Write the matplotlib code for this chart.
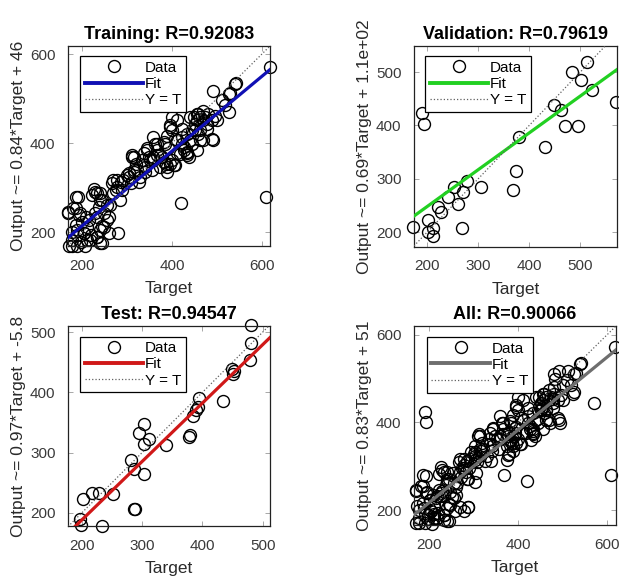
import numpy as np
import matplotlib
matplotlib.use('Agg')
import matplotlib.pyplot as plt
from matplotlib.lines import Line2D

plt.rcParams['font.family'] = ['Liberation Sans', 'DejaVu Sans']

# Target / output pairs
train_points = [
    (617, 572), (609, 280), (420, 266), (492, 406), (492, 518), (540, 533), (542, 535),
    (530, 512), (526, 470), (518, 485), (500, 451), (481, 466), (279, 198), (244, 175),
    (170, 244), (192, 278), (181, 254), (178, 170),
    (186, 280), (170, 246), (186, 254), (227, 298), (223, 283), (234, 287), (241, 272),
    (256, 261), (267, 310), (275, 295), (286, 313), (290, 295), (304, 324), (308, 310),
    (316, 335), (319, 354), (312, 373), (334, 362), (341, 347), (349, 369), (367, 373),
    (378, 369), (386, 354), (245, 213), (260, 235), (230, 243), (216, 228), (201, 224),
    (186, 216), (178, 201), (190, 194), (204, 198), (219, 194), (234, 190), (178, 183),
    (197, 179), (212, 183), (241, 175), (171, 170), (190, 170), (208, 235), (193, 239),
    (315, 369), (363, 399), (367, 384), (359, 414), (400, 429), (407, 410), (396, 354),
    (407, 350), (382, 358), (352, 362), (337, 350), (322, 339), (300, 328), (292, 317),
    (278, 302), (270, 317), (433, 421), (444, 399), (452, 429), (459, 466), (456, 451),
    (474, 458), (463, 406), (411, 451), (396, 440), (422, 399), (426, 384), (433, 373),
    (456, 384), (385, 399), (389, 417),
    (526, 511), (511, 496), (496, 462), (489, 451), (478, 432), (489, 410), (470, 451),
    (463, 458), (452, 444), (444, 429), (459, 421), (470, 406), (441, 406), (426, 391),
    (422, 414), (433, 377), (411, 377), (400, 362), (382, 403), (359, 369), (344, 384),
    (337, 377), (356, 339), (374, 347), (389, 335), (341, 335),
    (196, 242), (212, 212), (189, 205), (204, 198), (218, 183), (233, 190), (241, 205),
    (207, 168), (230, 291), (241, 287), (244, 272), (237, 257), (233, 235), (248, 242),
    (255, 227), (263, 261), (270, 287), (278, 317), (285, 272), (259, 198), (248, 212),
    (311, 369), (304, 332), (315, 339), (330, 324), (326, 313), (344, 388), (359, 362),
    (374, 373), (392, 388), (396, 436), (404, 350), (411, 406), (422, 432), (433, 380),
    (441, 458), (455, 466), (463, 429), (470, 473), (478, 444), (418, 376), (437, 369),
    (389, 347), (367, 399), (400, 458), (448, 458),
]

val_points = [
    (173, 210), (190, 423), (193, 402), (202, 222), (201, 201), (212, 207), (212, 192),
    (222, 247), (227, 238), (240, 266), (253, 285), (261, 252), (271, 276), (269, 207),
    (278, 296), (306, 285), (369, 279), (374, 315), (379, 379), (430, 360), (449, 438),
    (463, 428), (471, 399), (495, 399), (484, 500), (501, 486), (513, 518), (523, 466),
    (570, 444),
]

test_points = [
    (481, 511), (481, 482), (479, 454), (449, 439), (453, 435), (451, 430), (434, 385),
    (395, 390), (392, 375), (390, 370), (385, 360), (379, 329), (377, 325), (340, 313),
    (303, 347), (295, 333), (312, 323), (303, 314), (282, 287), (287, 272), (303, 264),
    (251, 231), (229, 233), (217, 233), (202, 222), (287, 206), (288, 206), (197, 189),
    (198, 180), (233, 178),
]

all_points = train_points + val_points + test_points

# Fit coefficients and R values from the titles/labels
titles = ['Training: R=0.92083', 'Validation: R=0.79619', 'Test: R=0.94547', 'All: R=0.90066']
slopes = [0.84, 0.69, 0.97, 0.83]
intercepts = [46, 110, -5.8, 51]
ylabels = ['Output ~= 0.84*Target + 46', 'Output ~= 0.69*Target + 1.1e+02',
           'Output ~= 0.97*Target + -5.8', 'Output ~= 0.83*Target + 51']
fit_colors = ['#1010b4', '#22d022', '#d01818', '#6e6e6e']

panels = [train_points, val_points, test_points, all_points]
positions = [[0.1099, 0.5729, 0.3263, 0.3472],
             [0.6688, 0.5712, 0.3279, 0.3490],
             [0.1099, 0.0868, 0.3263, 0.3472],
             [0.6688, 0.0885, 0.3263, 0.3455]]
xlims = [(169, 618), (174, 572), (177, 512), (166, 620)]
ylims = [(169, 618), (172, 549), (178, 510), (166, 620)]
ticks = [[200, 400, 600], [200, 300, 400, 500], [200, 300, 400, 500], [200, 400, 600]]
legend_anchor = [(0.059, 0.95), (0.054, 0.95), (0.059, 0.947), (0.064, 0.945)]

fig = plt.figure(figsize=(6.19, 5.76), dpi=100)

for i in range(4):
    ax = fig.add_axes(positions[i])
    t = np.array([p[0] for p in panels[i]])
    y = np.array([p[1] for p in panels[i]])
    x0, x1 = xlims[i]

    ax.plot(t, y, 'o', mfc='none', mec='black', ms=8.6, mew=1.0, clip_on=False, zorder=2)
    xx = np.array([x0, x1])
    ax.plot(xx, slopes[i] * xx + intercepts[i], color=fit_colors[i], lw=2.3, zorder=3)
    ax.plot(xx, xx, ':', color='#606060', lw=0.9, zorder=3)

    ax.set_xlim(x0, x1)
    ax.set_ylim(*ylims[i])
    ax.set_xticks(ticks[i])
    ax.set_yticks(ticks[i])
    ax.tick_params(direction='in', top=True, right=True, length=3.5, width=0.6,
                   color='#999999', labelsize=11, labelcolor='#3a3a3a', pad=9)
    for s in ax.spines.values():
        s.set_color('#222222')
        s.set_linewidth(0.9)

    ax.set_title(titles[i], fontsize=13, fontweight='bold', pad=5)
    ax.set_xlabel('Target', fontsize=12.5, color='#2a2a2a', labelpad=6)
    ax.set_ylabel(ylabels[i], fontsize=12.5, color='#2a2a2a', labelpad=3)

    handles = [Line2D([], [], ls='none', marker='o', mfc='none', mec='black', ms=8.6, mew=1.0),
               Line2D([], [], color=fit_colors[i], lw=2.8),
               Line2D([], [], ls=':', color='#606060', lw=0.9)]
    leg = ax.legend(handles, ['Data', 'Fit', 'Y = T'], loc='upper left',
                    bbox_to_anchor=legend_anchor[i], borderaxespad=0, fontsize=11,
                    handlelength=3.8, handletextpad=0.15, labelspacing=0.15,
                    borderpad=0.3, fancybox=False, framealpha=1, edgecolor='black')
    leg.get_frame().set_linewidth(0.9)
    leg.set_zorder(5)

plt.savefig('out.png', dpi=100)
